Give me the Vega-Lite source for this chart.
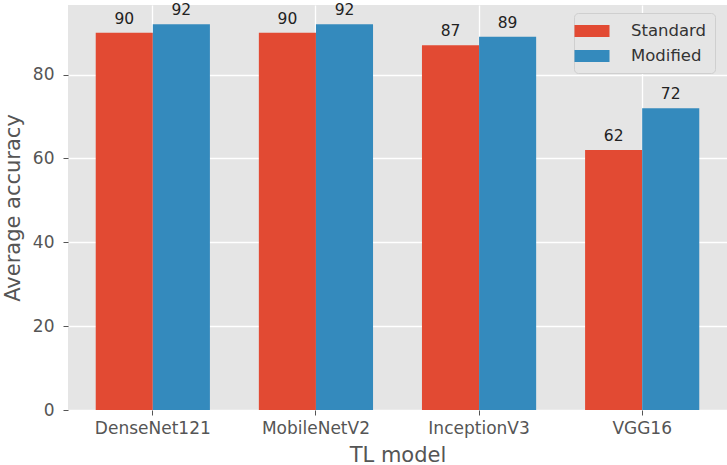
{
  "$schema": "https://vega.github.io/schema/vega-lite/v6.json",
  "width": 659,
  "height": 405,
  "autosize": {"type": "none"},
  "padding": {"left": 68, "top": 5, "right": 0, "bottom": 55},
  "background": "white",
  "config": {
    "font": "DejaVu Sans",
    "view": {"fill": "#E5E5E5", "stroke": null},
    "axis": {
      "gridColor": "white",
      "gridWidth": 1.3,
      "domain": false,
      "tickColor": "#555555",
      "tickSize": 5,
      "labelColor": "#555555",
      "labelFontSize": 17,
      "titleColor": "#555555",
      "titleFontSize": 21,
      "titleFontWeight": "normal"
    }
  },
  "data": {
    "values": [
      {"model": "DenseNet121", "method": "Standard", "accuracy": 90},
      {"model": "DenseNet121", "method": "Modified", "accuracy": 92},
      {"model": "MobileNetV2", "method": "Standard", "accuracy": 90},
      {"model": "MobileNetV2", "method": "Modified", "accuracy": 92},
      {"model": "InceptionV3", "method": "Standard", "accuracy": 87},
      {"model": "InceptionV3", "method": "Modified", "accuracy": 89},
      {"model": "VGG16", "method": "Standard", "accuracy": 62},
      {"model": "VGG16", "method": "Modified", "accuracy": 72}
    ]
  },
  "encoding": {
    "x": {
      "field": "model",
      "type": "nominal",
      "sort": ["DenseNet121", "MobileNetV2", "InceptionV3", "VGG16"],
      "scale": {"paddingInner": 0.3, "paddingOuter": 0.17},
      "axis": {"title": "TL model", "labelAngle": 0, "labelPadding": 5, "titlePadding": 8, "grid": true}
    },
    "xOffset": {
      "field": "method",
      "type": "nominal",
      "sort": ["Standard", "Modified"],
      "scale": {"paddingInner": 0, "paddingOuter": 0}
    },
    "y": {
      "field": "accuracy",
      "type": "quantitative",
      "scale": {"domain": [0, 96.6], "nice": false},
      "axis": {"title": "Average accuracy", "values": [0, 20, 40, 60, 80], "labelPadding": 9, "titlePadding": 9, "grid": true}
    }
  },
  "layer": [
    {
      "mark": {"type": "bar"},
      "encoding": {
        "color": {
          "field": "method",
          "type": "nominal",
          "sort": ["Standard", "Modified"],
          "scale": {"domain": ["Standard", "Modified"], "range": ["#E24A33", "#348ABD"]},
          "legend": {
            "title": null,
            "orient": "none",
            "legendX": 506,
            "legendY": 8,
            "padding": 8,
            "fillColor": "#E5E5E5",
            "strokeColor": "#CFCFCF",
            "cornerRadius": 4,
            "symbolType": "M-1.75,-0.6L1.75,-0.6L1.75,0.6L-1.75,0.6Z",
            "symbolSize": 400,
            "symbolStrokeWidth": 0,
            "symbolOpacity": 1,
            "rowPadding": 6,
            "labelFontSize": 16.5,
            "labelColor": "#333333",
            "labelOffset": 29
          }
        }
      }
    },
    {
      "mark": {"type": "text", "baseline": "alphabetic", "dy": -9, "fontSize": 15.5, "color": "#222222"},
      "encoding": {
        "text": {"field": "accuracy", "type": "quantitative"}
      }
    }
  ]
}
